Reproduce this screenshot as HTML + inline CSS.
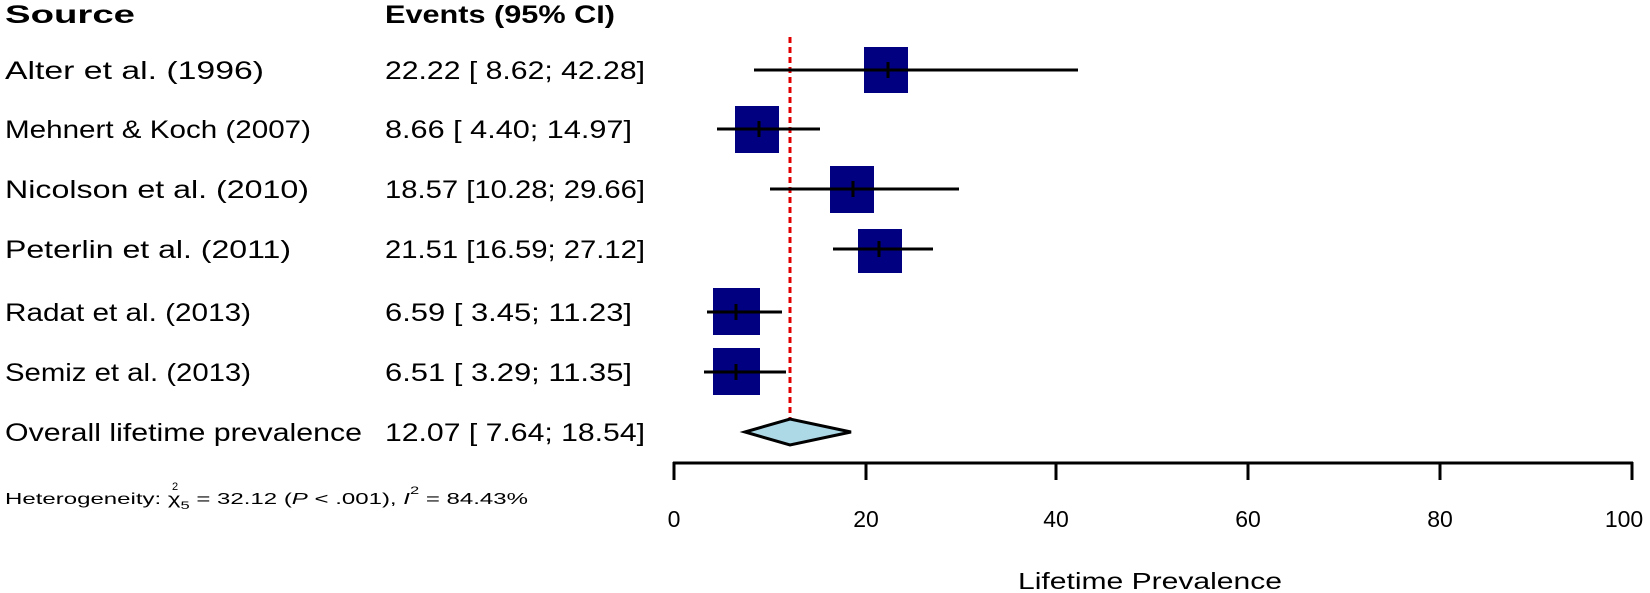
<!DOCTYPE html>
<html><head><meta charset="utf-8"><style>
html,body{margin:0;padding:0;background:#fff;}
svg{display:block;font-family:"Liberation Sans",Arial,sans-serif;}
</style></head><body>
<svg width="1650" height="593" viewBox="0 0 1650 593" xmlns="http://www.w3.org/2000/svg">
<g font-size="25" fill="#000">
<text x="5" y="23" font-weight="bold" textLength="130" lengthAdjust="spacingAndGlyphs">Source</text>
<text x="385" y="23" font-weight="bold" textLength="230" lengthAdjust="spacingAndGlyphs">Events (95% CI)</text>
<text x="5" y="79" textLength="259" lengthAdjust="spacingAndGlyphs">Alter et al. (1996)</text>
<text x="385" y="79" textLength="260" lengthAdjust="spacingAndGlyphs">22.22 [ 8.62; 42.28]</text>
<text x="5" y="138" textLength="306" lengthAdjust="spacingAndGlyphs">Mehnert &amp; Koch (2007)</text>
<text x="385" y="138" textLength="247" lengthAdjust="spacingAndGlyphs">8.66 [ 4.40; 14.97]</text>
<text x="5" y="198" textLength="304" lengthAdjust="spacingAndGlyphs">Nicolson et al. (2010)</text>
<text x="385" y="198" textLength="260" lengthAdjust="spacingAndGlyphs">18.57 [10.28; 29.66]</text>
<text x="5" y="258" textLength="286" lengthAdjust="spacingAndGlyphs">Peterlin et al. (2011)</text>
<text x="385" y="258" textLength="260" lengthAdjust="spacingAndGlyphs">21.51 [16.59; 27.12]</text>
<text x="5" y="321" textLength="246" lengthAdjust="spacingAndGlyphs">Radat et al. (2013)</text>
<text x="385" y="321" textLength="247" lengthAdjust="spacingAndGlyphs">6.59 [ 3.45; 11.23]</text>
<text x="5" y="381" textLength="246" lengthAdjust="spacingAndGlyphs">Semiz et al. (2013)</text>
<text x="385" y="381" textLength="247" lengthAdjust="spacingAndGlyphs">6.51 [ 3.29; 11.35]</text>
<text x="5" y="441" textLength="357" lengthAdjust="spacingAndGlyphs">Overall lifetime prevalence</text>
<text x="385" y="441" textLength="260" lengthAdjust="spacingAndGlyphs">12.07 [ 7.64; 18.54]</text>
</g>
<text x="5" y="504" font-size="16" textLength="523" lengthAdjust="spacingAndGlyphs">Heterogeneity: χ<tspan font-size="11" dy="5">5</tspan><tspan dy="-5"> = 32.12 (</tspan><tspan font-style="italic">P</tspan> &lt; .001), <tspan font-style="italic">I</tspan><tspan font-size="11" dy="-10">2</tspan><tspan dy="10"> = 84.43%</tspan></text>
<text x="172" y="490" font-size="11">2</text>

<line x1="790" y1="37" x2="790" y2="420" stroke="#e00000" stroke-width="3" stroke-dasharray="6,4"/>

<g stroke="#000" stroke-width="3">
<line x1="754" y1="70" x2="1078" y2="70"/>
<line x1="717" y1="129" x2="820" y2="129"/>
<line x1="770" y1="189" x2="959" y2="189"/>
<line x1="833" y1="249" x2="933" y2="249"/>
<line x1="707" y1="312" x2="782" y2="312"/>
<line x1="704" y1="372" x2="786" y2="372"/>
</g>
<g fill="#000080">
<rect x="864" y="47" width="44" height="46"/>
<rect x="735" y="106" width="44" height="47"/>
<rect x="830" y="166" width="44" height="47"/>
<rect x="858" y="229" width="44" height="44"/>
<rect x="713" y="288" width="47" height="47"/>
<rect x="713" y="348" width="47" height="47"/>
</g>
<g stroke="#000" stroke-width="3">
<line x1="864" y1="70" x2="908" y2="70"/>
<line x1="735" y1="129" x2="779" y2="129"/>
<line x1="830" y1="189" x2="874" y2="189"/>
<line x1="858" y1="249" x2="902" y2="249"/>
<line x1="713" y1="312" x2="760" y2="312"/>
<line x1="713" y1="372" x2="760" y2="372"/>
<line x1="888" y1="62" x2="888" y2="78"/>
<line x1="759" y1="121" x2="759" y2="137"/>
<line x1="853" y1="181" x2="853" y2="197"/>
<line x1="879" y1="241" x2="879" y2="257"/>
<line x1="736" y1="304" x2="736" y2="320"/>
<line x1="736" y1="364" x2="736" y2="380"/>
</g>
<polygon points="745,432 790,419 851,432 790,445" fill="#add8e6" stroke="#000" stroke-width="3"/>

<g stroke="#000" stroke-width="3">
<line x1="673" y1="463" x2="1633" y2="463"/>
<line x1="674" y1="462" x2="674" y2="480"/>
<line x1="866" y1="462" x2="866" y2="480"/>
<line x1="1056" y1="462" x2="1056" y2="480"/>
<line x1="1248" y1="462" x2="1248" y2="480"/>
<line x1="1440" y1="462" x2="1440" y2="480"/>
<line x1="1632" y1="462" x2="1632" y2="480"/>
</g>
<g font-size="23" text-anchor="middle">
<text x="674" y="527">0</text>
<text x="866" y="527">20</text>
<text x="1056" y="527">40</text>
<text x="1248" y="527">60</text>
<text x="1440" y="527">80</text>
<text x="1624" y="527">100</text>
<text x="1150" y="589" textLength="264" lengthAdjust="spacingAndGlyphs">Lifetime Prevalence</text>
</g>
</svg>
</body></html>
